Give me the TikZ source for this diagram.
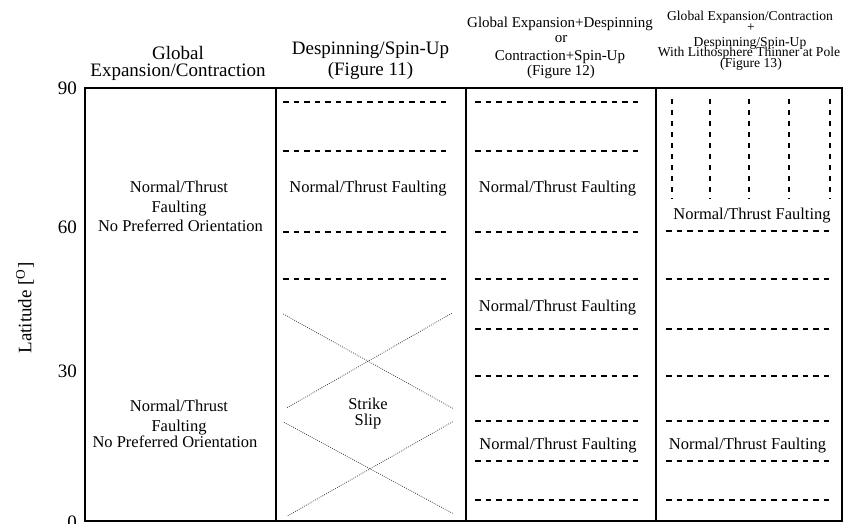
\documentclass[tikz,border=0pt]{standalone}
\usepackage{fontspec}
\setmainfont{Liberation Serif}
\begin{document}
\begin{tikzpicture}[x=1pt,y=-1pt,
  frame/.style={line width=1.3pt},
  hdash/.style={line width=1.1pt, dash pattern=on 5.5pt off 5pt},
  vdash/.style={line width=1.6pt, dash pattern=on 5pt off 6pt},
  xdot/.style={line width=0.8pt, dash pattern=on 0.8pt off 1.3pt, black!75},
  lbl/.style={anchor=base, inner sep=0pt, font=\fontsize{16.5}{16.5}\selectfont},
  hdA/.style={anchor=base, inner sep=0pt, font=\fontsize{19}{19}\selectfont},
  hdB/.style={anchor=base, inner sep=0pt, font=\fontsize{15}{15}\selectfont},
  hdC/.style={anchor=base, inner sep=0pt, font=\fontsize{13.6}{13.6}\selectfont},
  tick/.style={anchor=base east, inner sep=0pt, font=\fontsize{19}{19}\selectfont}]
\useasboundingbox (0,0) rectangle (848,524);
% frame and columns
\draw[frame] (85,88) rectangle (842,521);
\draw[frame] (276,88) -- (276,521);
\draw[frame] (466,88) -- (466,521);
\draw[frame] (656,88) -- (656,521);
% axis
\node[tick] (t90) at (77,95) {90};
\node[tick] (t60) at (77,233) {60};
\node[tick] (t30) at (77,377) {30};
\node[tick] (t0) at (77,528) {0};
\node[rotate=90, inner sep=0pt, font=\fontsize{19}{19}\selectfont] (ylab) at (25,308) {Latitude [$^{\mathrm{O}}$]};
% headings
\node[hdA] (h1a) at (178,60) {Global};
\node[hdA] (h1b) at (178,77) {Expansion/Contraction};
\node[hdA] (h2a) at (370.5,55) {Despinning/Spin-Up};
\node[hdA] (h2b) at (370.5,76) {(Figure 11)};
\node[hdB] (h3a) at (560,28) {Global Expansion+Despinning};
\node[hdB] (h3b) at (561,43) {or};
\node[hdB] (h3c) at (560,61) {Contraction+Spin-Up};
\node[hdB] (h3d) at (561,76) {(Figure 12)};
\node[hdC] (h4a) at (750,20.5) {Global Expansion/Contraction};
\node[hdC] (h4b) at (751,32) {+};
\node[hdC] (h4c) at (750,46.5) {Despinning/Spin-Up};
\node[hdC] (h4d) at (749,57) {With Lithosphere Thinner at Pole};
\node[hdC] (h4e) at (751,67.5) {(Figure 13)};
% column 1
\node[lbl] (c1a) at (179,192) {Normal/Thrust};
\node[lbl] (c1b) at (179,212) {Faulting};
\node[lbl] (c1c) at (180.5,231) {No Preferred Orientation};
\node[lbl] (c1d) at (179,411) {Normal/Thrust};
\node[lbl] (c1e) at (179,431) {Faulting};
\node[lbl] (c1f) at (175,447) {No Preferred Orientation};
% column 2
\foreach \yy in {102,151,232,279} \draw[hdash] (283,\yy) -- (450,\yy);
\node[lbl] (c2a) at (368,192) {Normal/Thrust Faulting};
\draw[xdot] (283.3,314) -- (452.7,408.3);
\draw[xdot] (451.7,313.3) -- (286,408.3);
\draw[xdot] (284,422.3) -- (452.7,513.3);
\draw[xdot] (452.7,421.7) -- (287.3,516);
\node[lbl] (c2b) at (368,409) {Strike};
\node[lbl] (c2c) at (368,425) {Slip};
% column 3
\foreach \yy in {102,151,232,279,329,376,421,461,500} \draw[hdash] (475,\yy) -- (642,\yy);
\node[lbl] (c3a) at (557.5,192) {Normal/Thrust Faulting};
\node[lbl] (c3b) at (557.5,311) {Normal/Thrust Faulting};
\node[lbl] (c3c) at (558,449.5) {Normal/Thrust Faulting};
% column 4
\foreach \xx in {672,710,749,789,830} \draw[vdash] (\xx,99) -- (\xx,199);
\foreach \yy in {231,279,329,376,421,461,500} \draw[hdash] (666,\yy) -- (832,\yy);
\node[lbl] (c4a) at (752,219) {Normal/Thrust Faulting};
\node[lbl] (c4b) at (747.5,449.5) {Normal/Thrust Faulting};
\end{tikzpicture}
\end{document}
